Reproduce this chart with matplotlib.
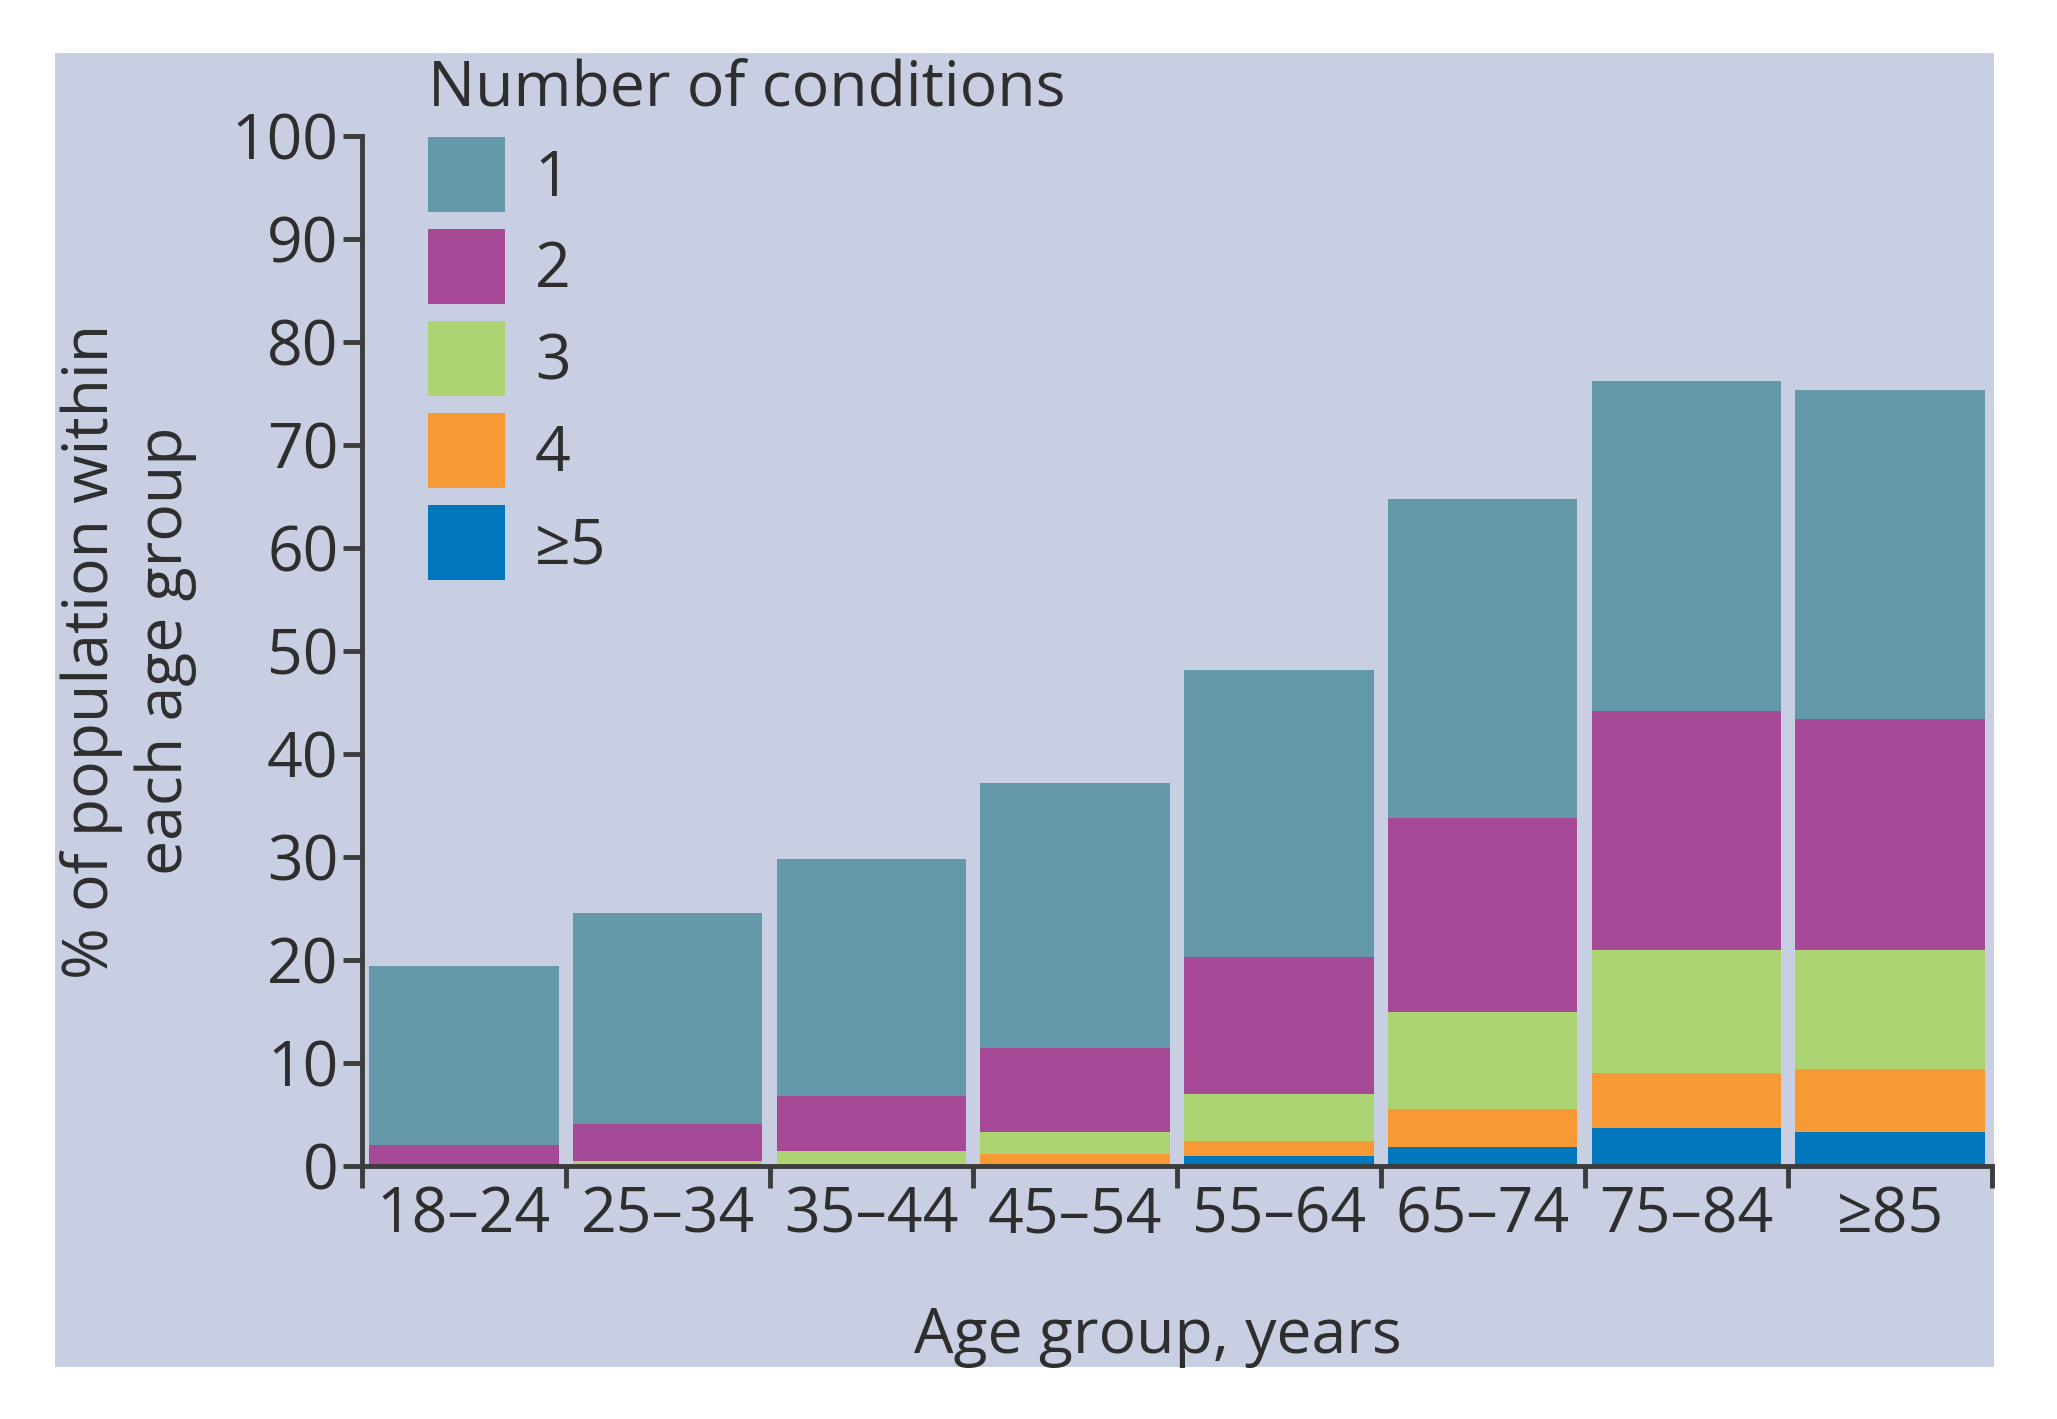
import matplotlib.pyplot as plt
from matplotlib.patches import Rectangle
import numpy as np

# data (percent of population in each age group)
age_groups = ['18–24', '25–34', '35–44', '45–54', '55–64', '65–74', '75–84', '≥85']
cond_labels = ['1', '2', '3', '4', '≥5']
five_plus = [0.0, 0.0, 0.0, 0.0, 1.0, 1.8, 3.7, 3.3]
four = [0.0, 0.2, 0.1, 1.15, 1.4, 3.7, 5.3, 6.15]
three = [0.0, 0.3, 1.35, 2.15, 4.6, 9.5, 12.0, 11.55]
two = [2.0, 3.6, 5.3, 8.2, 13.3, 18.8, 23.2, 22.4]
one = [17.4, 20.5, 23.05, 25.7, 27.9, 31.0, 32.0, 31.9]

colors = ['#6399a9', '#a64a98', '#acd473', '#f79a36', '#0077bd']
bg = '#c8cfe3'
axis_col = '#3c3c3c'
txt_col = '#2e2e2e'
fs = 45

plt.rcParams['font.family'] = ['Open Sans', 'DejaVu Sans']

W, H = 2057, 1419
fig = plt.figure(figsize=(W / 100, H / 100), dpi=100, facecolor='white')
# lavender panel behind the chart
fig.patches.append(Rectangle((55 / W, 1 - 1367 / H), (1994 - 55) / W, (1367 - 53) / H,
                             transform=fig.transFigure, facecolor=bg, edgecolor='none', zorder=-5))

ax = fig.add_axes([362 / W, 1 - 1166 / H, (1992 - 362) / W, (1166 - 136) / H])
ax.set_facecolor('none')
ax.set_zorder(2)

x = np.arange(len(age_groups))
series = [five_plus, four, three, two, one]
series_cols = [colors[4], colors[3], colors[2], colors[1], colors[0]]
bottom = np.zeros(len(age_groups))
handles = {}
for vals, col, lab in zip(series, series_cols, cond_labels[::-1]):
    b = ax.bar(x, vals, width=0.93, bottom=bottom, color=col, edgecolor='none', label=lab)
    handles[lab] = b
    bottom += np.array(vals)

ax.set_xlim(-0.5, len(age_groups) - 0.5)
ax.set_ylim(0, 100)

for s in ['top', 'right']:
    ax.spines[s].set_visible(False)
for s in ['left', 'bottom']:
    ax.spines[s].set_color(axis_col)
    ax.spines[s].set_linewidth(3.5)

ax.set_yticks(np.arange(0, 101, 10))
ax.tick_params(axis='y', direction='out', length=14, width=3.5, color=axis_col,
               labelsize=fs, labelcolor=txt_col, pad=3)

# boundary ticks on x, labels centred under the bars
ax.set_xticks(np.arange(-0.5, len(age_groups), 1.0))
ax.set_xticklabels([])
ax.set_xticks(x, minor=True)
ax.set_xticklabels(age_groups, minor=True)
ax.tick_params(axis='x', which='major', direction='out', length=16, width=3.5, color=axis_col)
ax.tick_params(axis='x', which='minor', length=0, labelsize=fs, labelcolor=txt_col, pad=14)

ax.set_ylabel('% of population within\neach age group', fontsize=fs, color=txt_col,
              linespacing=1.25)
ax.yaxis.set_label_coords(-0.101, 0.5)
ax.set_xlabel('Age group, years', fontsize=fs, color=txt_col)
ax.xaxis.set_label_coords(0.488, -0.135)

leg = ax.legend([handles[l] for l in cond_labels], cond_labels, title='Number of conditions',
                loc='upper left', bbox_to_anchor=(428 / W, 1 - 58 / H),
                bbox_transform=fig.transFigure, frameon=False, fontsize=fs,
                title_fontsize=fs, alignment='left', handlelength=1.23, handleheight=1.47,
                labelspacing=0.27, handletextpad=0.48, borderaxespad=0, borderpad=0)
for t in leg.get_texts():
    t.set_color(txt_col)
leg.get_title().set_color(txt_col)

fig.savefig('out.png', dpi=100, facecolor='white')
